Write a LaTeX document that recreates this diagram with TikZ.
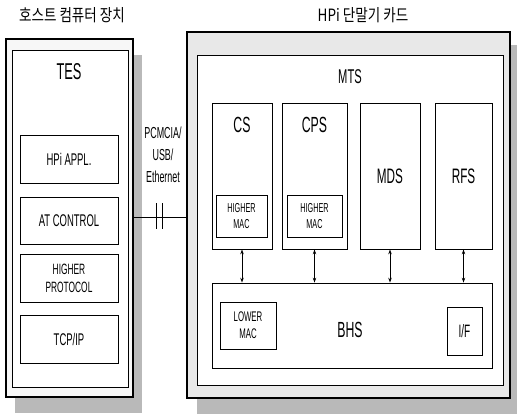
\documentclass[tikz,border=0pt]{standalone}
\usepackage{fontspec}
\setmainfont{Liberation Sans}[FakeStretch=0.56]
\newfontfamily\kr{Noto Sans CJK KR}[FakeStretch=0.8]
\usetikzlibrary{fit,arrows.meta}
\newcommand{\fs}[1]{\fontsize{#1}{#1}\selectfont}
\tikzset{
  outerbox/.style={draw=black, line width=1.2pt, inner sep=0pt},
  innerbox/.style={draw=black, line width=1pt, fill=white, inner sep=0pt},
  subbox/.style={draw=black, line width=0.8pt, fill=white, inner sep=0pt},
  lbl/.style={inner sep=0pt, align=center},
  dbl/.style={{Stealth[length=5pt,width=3.5pt]}-{Stealth[length=5pt,width=3.5pt]}, line width=0.9pt},
}
\begin{document}
\begin{tikzpicture}[x=1bp,y=-1bp]
\useasboundingbox (0,0) rectangle (517,416);
% titles
\node[lbl, font=\kr\fs{17}] (t1) at (72,15) {호스트 컴퓨터 장치};
\node[lbl, font=\kr\fs{17}] (t2) at (363,15) {HPi 단말기 카드};
% left (host) box
\fill[gray!55] (15,55) rectangle (142,413);
\node[outerbox, fill=gray!6, fit={(6,39) (133,397)}] (host) {};
\node[innerbox, fit={(12,50) (128,387)}] (tes) {};
\node[lbl, font=\fs{23}] (teslbl) at (69,72) {TES};
\node[subbox, fit={(20,135) (118,183)}] (appl) {};
\node[lbl, font=\fs{17}] at (appl.center) {HPi APPL.};
\node[subbox, fit={(20,197) (118,244)}] (atc) {};
\node[lbl, font=\fs{17}] at (atc.center) {AT CONTROL};
\node[subbox, fit={(20,254) (118,302)}] (hp) {};
\node[lbl, font=\fs{15}] at (hp.center) {HIGHER\\[3pt]PROTOCOL};
\node[subbox, fit={(20,315) (118,363)}] (tcp) {};
\node[lbl, font=\fs{17}] at (tcp.center) {TCP/IP};
% right (card) box
\fill[gray!55] (197,45) rectangle (517,414);
\node[outerbox, fill=gray!18, fit={(187,32) (510,398)}] (card) {};
\node[innerbox, fit={(197,55) (503,385)}] (mts) {};
\node[lbl, font=\fs{20}] (mtslbl) at (350,77) {MTS};
\node[subbox, fit={(212,103) (272,249)}] (cs) {};
\node[lbl, font=\fs{22}] at (242,125) {CS};
\node[subbox, fit={(282,103) (347,249)}] (cps) {};
\node[lbl, font=\fs{22}] at (314.5,125) {CPS};
\node[subbox, fit={(360,103) (420,249)}] (mds) {};
\node[lbl, font=\fs{21}] at (mds.center) {MDS};
\node[subbox, fit={(435,103) (492,249)}] (rfs) {};
\node[lbl, font=\fs{21}] at (rfs.center) {RFS};
\node[subbox, fit={(216,195) (267,237)}] (hm1) {};
\node[lbl, font=\fs{13}] at (hm1.center) {HIGHER\\[3pt]MAC};
\node[subbox, fit={(287,195) (342,237)}] (hm2) {};
\node[lbl, font=\fs{13}] at (hm2.center) {HIGHER\\[3pt]MAC};
\node[subbox, fit={(212,283) (492,368)}] (bhs) {};
\node[lbl, font=\fs{22}] at (350,330) {BHS};
\node[subbox, fit={(220,302) (276,349)}] (lm) {};
\node[lbl, font=\fs{14}] at (lm.center) {LOWER\\[3pt]MAC};
\node[subbox, fit={(447,307) (482,355)}] (if) {};
\node[lbl, font=\fs{18}] at (if.center) {I/F};
% arrows
\foreach \b in {cs,cps,mds,rfs}{
  \draw[dbl] (\b.south) -- (\b.south |- bhs.north);
}
% interface link
\coordinate (la) at (host.east |- 0,217);
\coordinate (lb) at (card.west |- 0,217);
\draw[line width=0.9pt] (la) -- (lb);
\draw[line width=0.9pt] (156,203) -- (156,229);
\draw[line width=0.9pt] (162,203) -- (162,229);
\node[lbl, font=\fs{16}] (iflbl) at (163,155) {PCMCIA/\\[6pt]USB/\\[6pt]Ethernet};
\end{tikzpicture}
\end{document}
